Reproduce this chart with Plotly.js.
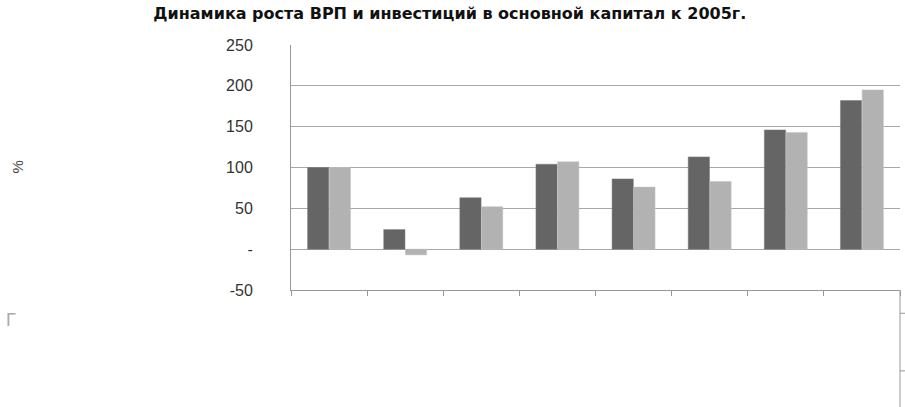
<!DOCTYPE html>
<html>
<head>
<meta charset="utf-8">
<script src="https://cdn.plot.ly/plotly-3.0.1.min.js"></script>
<style>html,body{margin:0;padding:0;background:#fff;}#chart{width:905px;height:407px;}</style>
</head>
<body>
<div id="chart"></div>
<script>
const categories = ['1', '2', '3', '4', '5', '6', '7', '8'];
const grpValues = [100, 24, 63, 104, 86, 113, 146, 182];
const invValues = [100, -7, 52, 107, 76, 83, 143, 195];
const yTickVals = [-50, 0, 50, 100, 150, 200, 250];
const yTickText = ['-50', '-', '50', '100', '150', '200', '250'];
const titleText = 'Динамика роста ВРП и инвестиций в основной капитал к 2005г.';
const yTitle = '%';

const traces = [
  {type: 'bar', x: categories, y: grpValues, name: 'ВРП',
   marker: {color: '#656565', line: {color: '#7a7a7a', width: 0.5}}},
  {type: 'bar', x: categories, y: invValues, name: 'Инвестиции',
   marker: {color: '#b2b2b2', line: {color: '#c2c2c2', width: 0.5}}}
];

const layout = {
  width: 905, height: 407,
  margin: {l: 291, r: 5, t: 45, b: 117},
  paper_bgcolor: '#ffffff', plot_bgcolor: '#ffffff',
  showlegend: false,
  barmode: 'group', bargap: 0.43, bargroupgap: 0.02,
  font: {family: 'Liberation Sans, Arial, sans-serif', color: '#222'},
  title: {text: '<b>' + titleText + '</b>', x: 0.497, xanchor: 'center', y: 0.968, yanchor: 'middle',
          font: {size: 16, family: 'DejaVu Sans, sans-serif', color: '#111'}},
  xaxis: {type: 'category', showticklabels: false, tickson: 'boundaries', ticks: 'outside',
          ticklen: 5, tickcolor: '#999', showline: true, linecolor: '#999', linewidth: 1,
          showgrid: false, zeroline: false, fixedrange: true},
  yaxis: {range: [-50, 250], tickvals: yTickVals, ticktext: yTickText, showline: true,
          linecolor: '#999', linewidth: 1, showgrid: true, gridcolor: '#a8a8a8', gridwidth: 1,
          zeroline: false, ticks: '', ticklabelstandoff: 34,
          tickfont: {size: 16, family: 'Liberation Sans, Arial, sans-serif', color: '#333'}, fixedrange: true},
  annotations: [
    {text: yTitle, xref: 'paper', yref: 'paper', x: -0.467, y: 0.5, showarrow: false,
     textangle: -90, font: {size: 15, color: '#444'}},
    {text: 'Г', xref: 'paper', yref: 'paper', x: -0.472, y: -0.17, showarrow: false,
     font: {size: 18, color: '#aaa'}}
  ],
  shapes: [
    {type: 'line', xref: 'paper', yref: 'paper', x0: 1, x1: 1, y0: 0, y1: -0.48,
     line: {color: '#999', width: 1}},
    {type: 'line', xref: 'paper', yref: 'paper', x0: 1, x1: 1.01, y0: -0.095, y1: -0.095,
     line: {color: '#999', width: 1}},
    {type: 'line', xref: 'paper', yref: 'paper', x0: 1, x1: 1.01, y0: -0.33, y1: -0.33,
     line: {color: '#999', width: 1}}
  ]
};

Plotly.newPlot('chart', traces, layout, {displayModeBar: false, staticPlot: true});
</script>
</body>
</html>
